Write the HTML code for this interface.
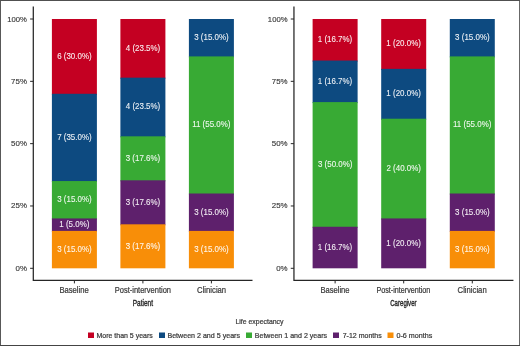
<!DOCTYPE html>
<html lang="en">
<head>
<meta charset="utf-8">
<title>Life expectancy estimates</title>
<style>
html,body{margin:0;padding:0;background:#ffffff;}
body{width:520px;height:346px;overflow:hidden;}
svg{display:block;}
</style>
</head>
<body>
<svg width="520" height="346" viewBox="0 0 520 346" font-family="'Liberation Sans', sans-serif">
<rect x="0" y="0" width="520" height="346" fill="#ffffff"/>
<g>
<rect x="51.90" y="19.00" width="45.00" height="75.79" fill="#c40022"/>
<text transform="translate(57.14 58.85) scale(0.9600 1)" font-size="8.3" fill="#ffffff" stroke="#ffffff" stroke-width="0.08" fill-opacity="0.93">6 (30.0%)</text>
<rect x="51.90" y="93.79" width="45.00" height="88.25" fill="#0d4a80"/>
<text transform="translate(57.14 139.87) scale(0.9600 1)" font-size="8.3" fill="#ffffff" stroke="#ffffff" stroke-width="0.08" fill-opacity="0.93">7 (35.0%)</text>
<rect x="51.90" y="181.05" width="45.00" height="38.39" fill="#38aa34"/>
<text transform="translate(57.22 202.19) scale(0.9600 1)" font-size="8.3" fill="#ffffff" stroke="#ffffff" stroke-width="0.08" fill-opacity="0.93">3 (15.0%)</text>
<rect x="51.90" y="218.44" width="45.00" height="13.47" fill="#5e206c"/>
<text transform="translate(59.28 227.12) scale(0.9600 1)" font-size="8.3" fill="#ffffff" stroke="#ffffff" stroke-width="0.08" fill-opacity="0.93">1 (5.0%)</text>
<rect x="51.90" y="230.91" width="45.00" height="37.40" fill="#f88e08"/>
<text transform="translate(57.22 252.05) scale(0.9600 1)" font-size="8.3" fill="#ffffff" stroke="#ffffff" stroke-width="0.08" fill-opacity="0.93">3 (15.0%)</text>
<line x1="74.40" y1="280.40" x2="74.40" y2="283.40" stroke="#262626" stroke-width="1"/>
<text transform="translate(59.39 293.20) scale(0.9344 1)" font-size="8.2" fill="#3a3a3a" stroke="#3a3a3a" stroke-width="0.22">Baseline</text>
<rect x="120.40" y="19.00" width="45.00" height="59.66" fill="#c40022"/>
<text transform="translate(125.76 50.78) scale(0.9600 1)" font-size="8.3" fill="#ffffff" stroke="#ffffff" stroke-width="0.08" fill-opacity="0.93">4 (23.5%)</text>
<rect x="120.40" y="77.66" width="45.00" height="59.66" fill="#0d4a80"/>
<text transform="translate(125.76 109.44) scale(0.9600 1)" font-size="8.3" fill="#ffffff" stroke="#ffffff" stroke-width="0.08" fill-opacity="0.93">4 (23.5%)</text>
<rect x="120.40" y="136.32" width="45.00" height="44.99" fill="#38aa34"/>
<text transform="translate(125.72 160.76) scale(0.9600 1)" font-size="8.3" fill="#ffffff" stroke="#ffffff" stroke-width="0.08" fill-opacity="0.93">3 (17.6%)</text>
<rect x="120.40" y="180.31" width="45.00" height="44.99" fill="#5e206c"/>
<text transform="translate(125.72 204.76) scale(0.9600 1)" font-size="8.3" fill="#ffffff" stroke="#ffffff" stroke-width="0.08" fill-opacity="0.93">3 (17.6%)</text>
<rect x="120.40" y="224.31" width="45.00" height="43.99" fill="#f88e08"/>
<text transform="translate(125.72 248.75) scale(0.9600 1)" font-size="8.3" fill="#ffffff" stroke="#ffffff" stroke-width="0.08" fill-opacity="0.93">3 (17.6%)</text>
<line x1="142.90" y1="280.40" x2="142.90" y2="283.40" stroke="#262626" stroke-width="1"/>
<text transform="translate(114.70 293.20) scale(0.9153 1)" font-size="8.2" fill="#3a3a3a" stroke="#3a3a3a" stroke-width="0.22">Post-intervention</text>
<rect x="188.90" y="19.00" width="45.00" height="38.40" fill="#0d4a80"/>
<text transform="translate(194.22 40.15) scale(0.9600 1)" font-size="8.3" fill="#ffffff" stroke="#ffffff" stroke-width="0.08" fill-opacity="0.93">3 (15.0%)</text>
<rect x="188.90" y="56.40" width="45.00" height="138.12" fill="#38aa34"/>
<text transform="translate(192.14 127.40) scale(0.9600 1)" font-size="8.3" fill="#ffffff" stroke="#ffffff" stroke-width="0.08" fill-opacity="0.93">11 (55.0%)</text>
<rect x="188.90" y="193.51" width="45.00" height="38.39" fill="#5e206c"/>
<text transform="translate(194.22 214.66) scale(0.9600 1)" font-size="8.3" fill="#ffffff" stroke="#ffffff" stroke-width="0.08" fill-opacity="0.93">3 (15.0%)</text>
<rect x="188.90" y="230.91" width="45.00" height="37.39" fill="#f88e08"/>
<text transform="translate(194.22 252.05) scale(0.9600 1)" font-size="8.3" fill="#ffffff" stroke="#ffffff" stroke-width="0.08" fill-opacity="0.93">3 (15.0%)</text>
<line x1="211.40" y1="280.40" x2="211.40" y2="283.40" stroke="#262626" stroke-width="1"/>
<text transform="translate(197.12 293.20) scale(0.9363 1)" font-size="8.2" fill="#3a3a3a" stroke="#3a3a3a" stroke-width="0.22">Clinician</text>
<path d="M33.30 6.5 V280.40 H252.50" fill="none" stroke="#262626" stroke-width="1.25" stroke-linejoin="miter"/>
<line x1="30.10" y1="268.30" x2="33.30" y2="268.30" stroke="#262626" stroke-width="1"/>
<text transform="translate(15.51 270.80) scale(1.0000 1)" font-size="7.9" fill="#3a3a3a" stroke="#3a3a3a" stroke-width="0.15">0%</text>
<line x1="30.10" y1="205.98" x2="33.30" y2="205.98" stroke="#262626" stroke-width="1"/>
<text transform="translate(11.12 208.48) scale(1.0000 1)" font-size="7.9" fill="#3a3a3a" stroke="#3a3a3a" stroke-width="0.15">25%</text>
<line x1="30.10" y1="143.65" x2="33.30" y2="143.65" stroke="#262626" stroke-width="1"/>
<text transform="translate(11.12 146.15) scale(1.0000 1)" font-size="7.9" fill="#3a3a3a" stroke="#3a3a3a" stroke-width="0.15">50%</text>
<line x1="30.10" y1="81.33" x2="33.30" y2="81.33" stroke="#262626" stroke-width="1"/>
<text transform="translate(11.12 83.83) scale(1.0000 1)" font-size="7.9" fill="#3a3a3a" stroke="#3a3a3a" stroke-width="0.15">75%</text>
<line x1="30.10" y1="19.00" x2="33.30" y2="19.00" stroke="#262626" stroke-width="1"/>
<text transform="translate(7.22 21.50) scale(0.9750 1)" font-size="7.9" fill="#3a3a3a" stroke="#3a3a3a" stroke-width="0.15">100%</text>
<text transform="translate(132.78 305.90) scale(0.7132 1)" font-size="9.1" fill="#2a2a2a" stroke="#2a2a2a" stroke-width="0.4">Patient</text>
</g>
<g>
<rect x="312.61" y="19.00" width="45.00" height="42.55" fill="#c40022"/>
<text transform="translate(317.77 42.22) scale(0.9600 1)" font-size="8.3" fill="#ffffff" stroke="#ffffff" stroke-width="0.08" fill-opacity="0.93">1 (16.7%)</text>
<rect x="312.61" y="60.55" width="45.00" height="42.55" fill="#0d4a80"/>
<text transform="translate(317.77 83.77) scale(0.9600 1)" font-size="8.3" fill="#ffffff" stroke="#ffffff" stroke-width="0.08" fill-opacity="0.93">1 (16.7%)</text>
<rect x="312.61" y="102.10" width="45.00" height="125.65" fill="#38aa34"/>
<text transform="translate(317.93 166.87) scale(0.9600 1)" font-size="8.3" fill="#ffffff" stroke="#ffffff" stroke-width="0.08" fill-opacity="0.93">3 (50.0%)</text>
<rect x="312.61" y="226.75" width="45.00" height="41.55" fill="#5e206c"/>
<text transform="translate(317.77 249.97) scale(0.9600 1)" font-size="8.3" fill="#ffffff" stroke="#ffffff" stroke-width="0.08" fill-opacity="0.93">1 (16.7%)</text>
<line x1="335.11" y1="280.40" x2="335.11" y2="283.40" stroke="#262626" stroke-width="1"/>
<text transform="translate(320.39 293.20) scale(0.9278 1)" font-size="8.2" fill="#3a3a3a" stroke="#3a3a3a" stroke-width="0.22">Baseline</text>
<rect x="381.20" y="19.00" width="45.00" height="50.86" fill="#c40022"/>
<text transform="translate(386.36 46.38) scale(0.9600 1)" font-size="8.3" fill="#ffffff" stroke="#ffffff" stroke-width="0.08" fill-opacity="0.93">1 (20.0%)</text>
<rect x="381.20" y="68.86" width="45.00" height="50.86" fill="#0d4a80"/>
<text transform="translate(386.36 96.24) scale(0.9600 1)" font-size="8.3" fill="#ffffff" stroke="#ffffff" stroke-width="0.08" fill-opacity="0.93">1 (20.0%)</text>
<rect x="381.20" y="118.72" width="45.00" height="100.72" fill="#38aa34"/>
<text transform="translate(386.44 171.03) scale(0.9600 1)" font-size="8.3" fill="#ffffff" stroke="#ffffff" stroke-width="0.08" fill-opacity="0.93">2 (40.0%)</text>
<rect x="381.20" y="218.44" width="45.00" height="49.86" fill="#5e206c"/>
<text transform="translate(386.36 245.82) scale(0.9600 1)" font-size="8.3" fill="#ffffff" stroke="#ffffff" stroke-width="0.08" fill-opacity="0.93">1 (20.0%)</text>
<line x1="403.70" y1="280.40" x2="403.70" y2="283.40" stroke="#262626" stroke-width="1"/>
<text transform="translate(376.42 293.20) scale(0.8773 1)" font-size="8.2" fill="#3a3a3a" stroke="#3a3a3a" stroke-width="0.22">Post-intervention</text>
<rect x="449.79" y="19.00" width="45.00" height="38.40" fill="#0d4a80"/>
<text transform="translate(455.11 40.15) scale(0.9600 1)" font-size="8.3" fill="#ffffff" stroke="#ffffff" stroke-width="0.08" fill-opacity="0.93">3 (15.0%)</text>
<rect x="449.79" y="56.40" width="45.00" height="138.12" fill="#38aa34"/>
<text transform="translate(453.03 127.40) scale(0.9600 1)" font-size="8.3" fill="#ffffff" stroke="#ffffff" stroke-width="0.08" fill-opacity="0.93">11 (55.0%)</text>
<rect x="449.79" y="193.51" width="45.00" height="38.39" fill="#5e206c"/>
<text transform="translate(455.11 214.66) scale(0.9600 1)" font-size="8.3" fill="#ffffff" stroke="#ffffff" stroke-width="0.08" fill-opacity="0.93">3 (15.0%)</text>
<rect x="449.79" y="230.91" width="45.00" height="37.39" fill="#f88e08"/>
<text transform="translate(455.11 252.05) scale(0.9600 1)" font-size="8.3" fill="#ffffff" stroke="#ffffff" stroke-width="0.08" fill-opacity="0.93">3 (15.0%)</text>
<line x1="472.29" y1="280.40" x2="472.29" y2="283.40" stroke="#262626" stroke-width="1"/>
<text transform="translate(457.61 293.20) scale(0.9396 1)" font-size="8.2" fill="#3a3a3a" stroke="#3a3a3a" stroke-width="0.22">Clinician</text>
<path d="M293.95 6.5 V280.40 H513.45" fill="none" stroke="#262626" stroke-width="1.25" stroke-linejoin="miter"/>
<line x1="290.75" y1="268.30" x2="293.95" y2="268.30" stroke="#262626" stroke-width="1"/>
<text transform="translate(276.16 270.80) scale(1.0000 1)" font-size="7.9" fill="#3a3a3a" stroke="#3a3a3a" stroke-width="0.15">0%</text>
<line x1="290.75" y1="205.98" x2="293.95" y2="205.98" stroke="#262626" stroke-width="1"/>
<text transform="translate(271.77 208.48) scale(1.0000 1)" font-size="7.9" fill="#3a3a3a" stroke="#3a3a3a" stroke-width="0.15">25%</text>
<line x1="290.75" y1="143.65" x2="293.95" y2="143.65" stroke="#262626" stroke-width="1"/>
<text transform="translate(271.77 146.15) scale(1.0000 1)" font-size="7.9" fill="#3a3a3a" stroke="#3a3a3a" stroke-width="0.15">50%</text>
<line x1="290.75" y1="81.33" x2="293.95" y2="81.33" stroke="#262626" stroke-width="1"/>
<text transform="translate(271.77 83.83) scale(1.0000 1)" font-size="7.9" fill="#3a3a3a" stroke="#3a3a3a" stroke-width="0.15">75%</text>
<line x1="290.75" y1="19.00" x2="293.95" y2="19.00" stroke="#262626" stroke-width="1"/>
<text transform="translate(267.87 21.50) scale(0.9750 1)" font-size="7.9" fill="#3a3a3a" stroke="#3a3a3a" stroke-width="0.15">100%</text>
<text transform="translate(390.20 305.90) scale(0.6688 1)" font-size="9.1" fill="#2a2a2a" stroke="#2a2a2a" stroke-width="0.4">Caregiver</text>
</g>
<g>
<text transform="translate(235.45 323.70) scale(0.9473 1)" font-size="7.3" fill="#3a3a3a" stroke="#3a3a3a" stroke-width="0.22">Life expectancy</text>
<rect x="88.00" y="332.5" width="6" height="5.5" fill="#c40022"/>
<text transform="translate(96.44 337.80) scale(0.9598 1)" font-size="7.3" fill="#3a3a3a" stroke="#3a3a3a" stroke-width="0.22">More than 5 years</text>
<rect x="159.00" y="332.5" width="6" height="5.5" fill="#0d4a80"/>
<text transform="translate(167.43 337.80) scale(0.9747 1)" font-size="7.3" fill="#3a3a3a" stroke="#3a3a3a" stroke-width="0.22">Between 2 and 5 years</text>
<rect x="246.00" y="332.5" width="6" height="5.5" fill="#38aa34"/>
<text transform="translate(254.73 337.80) scale(0.9706 1)" font-size="7.3" fill="#3a3a3a" stroke="#3a3a3a" stroke-width="0.22">Between 1 and 2 years</text>
<rect x="333.00" y="332.5" width="6" height="5.5" fill="#5e206c"/>
<text transform="translate(342.65 337.80) scale(0.9627 1)" font-size="7.3" fill="#3a3a3a" stroke="#3a3a3a" stroke-width="0.22">7-12 months</text>
<rect x="387.50" y="332.5" width="6" height="5.5" fill="#f88e08"/>
<text transform="translate(396.49 337.80) scale(0.9784 1)" font-size="7.3" fill="#3a3a3a" stroke="#3a3a3a" stroke-width="0.22">0-6 months</text>
</g>
<g stroke-width="1" fill="none"><line x1="519.5" y1="0" x2="519.5" y2="346" stroke="#686868"/><line x1="0.5" y1="0" x2="0.5" y2="346" stroke="#585858"/><line x1="0" y1="0.5" x2="520" y2="0.5" stroke="#505050"/><line x1="0" y1="345.5" x2="520" y2="345.5" stroke="#444444"/></g>
</svg>
</body>
</html>
